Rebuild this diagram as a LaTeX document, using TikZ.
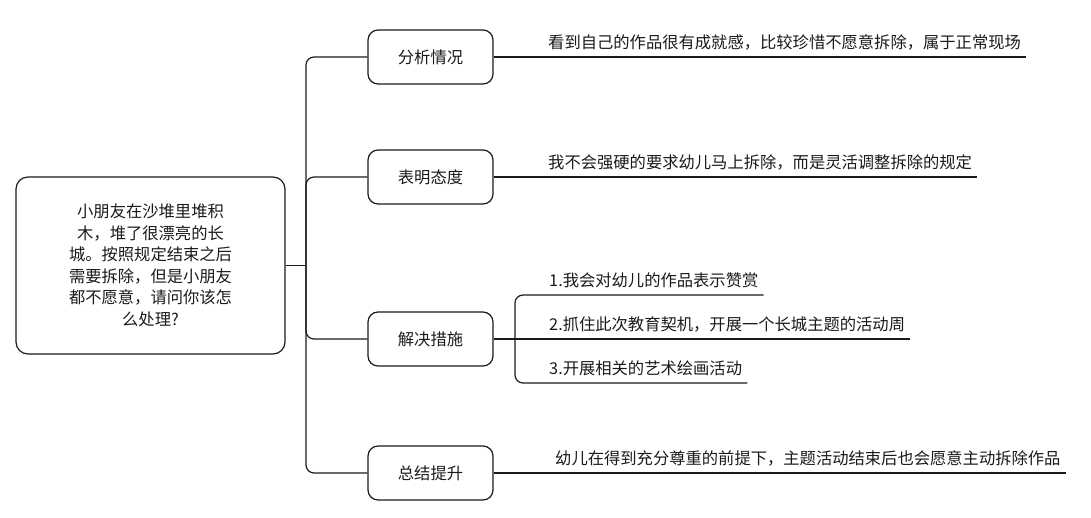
\documentclass[tikz,border=0pt]{standalone}
\usepackage{fontspec}
\setmainfont{Noto Sans CJK SC}
\definecolor{mInk}{HTML}{1A1A1A}
\usetikzlibrary{positioning}

\begin{document}
\begin{tikzpicture}[x=1pt, y=-1pt,
  every node/.style={font=\fontsize{16.3}{21.5}\selectfont, text=mInk},
  rootbox/.style={draw=mInk, line width=1.2pt, rounded corners=12pt,
    minimum width=269pt, minimum height=177pt, align=center},
  branchbox/.style={draw=mInk, line width=1.2pt, rounded corners=10pt,
    minimum width=125pt, minimum height=54pt},
  leaftext/.style={anchor=south west, inner xsep=5pt, inner ysep=7pt},
  link/.style={draw=mInk, line width=1.2pt, rounded corners=8pt}]
\useasboundingbox (0,0) rectangle (1091,517);

% centre question
\node[rootbox] (root) at (150.5,265.5)
  {小朋友在沙堆里堆积\\木，堆了很漂亮的长\\城。按照规定结束之后\\需要拆除，但是小朋友\\都不愿意，请问你该怎\\么处理?};

% four branches
\node[branchbox] (fenxi)    at (430.5,57)  {分析情况};
\node[branchbox] (biaoming) at (430.5,177) {表明态度};
\node[branchbox] (jiejue)   at (430.5,339) {解决措施};
\node[branchbox] (zongjie)  at (430.5,473) {总结提升};

\coordinate (hub) at (306,265.5);
\draw[link, line width=1.8pt] (root.east) -- (hub);
\foreach \b in {fenxi, biaoming, jiejue, zongjie}
  \draw[link] (hub) |- (\b.west);

% leaves
\node[leaftext] (leafA) at (543,57)  {看到自己的作品很有成就感，比较珍惜不愿意拆除，属于正常现场};
\node[leaftext] (leafB) at (543,177) {我不会强硬的要求幼儿马上拆除，而是灵活调整拆除的规定};
\node[leaftext] (leafD) at (550,473) {幼儿在得到充分尊重的前提下，主题活动结束后也会愿意主动拆除作品};
\draw[link] (fenxi.east) -- (leafA.south east);
\draw[link] (biaoming.east) -- (leafB.south east);
\draw[link] (zongjie.east) -- (leafD.south east);

% measures
\coordinate (bra) at (515,339);
\node[leaftext] (stepA) at (544,295) {1.我会对幼儿的作品表示赞赏};
\node[leaftext] (stepB) at (544,339) {2.抓住此次教育契机，开展一个长城主题的活动周};
\node[leaftext] (stepC) at (544,383) {3.开展相关的艺术绘画活动};
\draw[link] (jiejue.east) -- (bra);
\draw[link] (bra) |- (stepA.south east);
\draw[link] (bra) -- (stepB.south east);
\draw[link] (bra) |- (stepC.south east);
\end{tikzpicture}
\end{document}
